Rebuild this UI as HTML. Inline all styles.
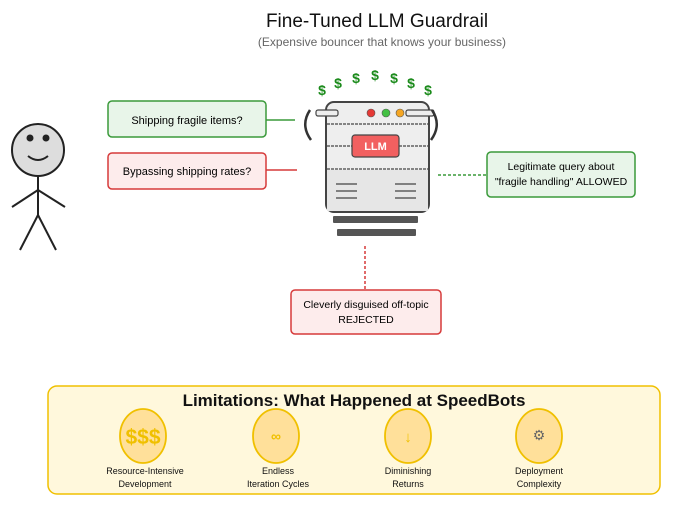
<!DOCTYPE html>
<html><head><style>body{margin:0;background:#fff}svg{display:block}</style></head><body>
<svg width="700" height="525" xmlns="http://www.w3.org/2000/svg" font-family="Liberation Sans, sans-serif">
<text x="377" y="27" font-size="19" text-anchor="middle" fill="#111">Fine-Tuned LLM Guardrail</text>
<text x="382" y="46" font-size="12" text-anchor="middle" fill="#666">(Expensive bouncer that knows your business)</text>
<!-- stick figure -->
<g stroke="#222" stroke-width="2" fill="none">
<circle cx="38" cy="150" r="26" fill="#ddd"/>
<line x1="38" y1="176" x2="38" y2="215"/>
<line x1="38" y1="190" x2="12" y2="207"/>
<line x1="38" y1="190" x2="65" y2="207"/>
<line x1="38" y1="215" x2="20" y2="250"/>
<line x1="38" y1="215" x2="56" y2="250"/>
<path d="M28 156 Q38 164 48 156"/>
</g>
<circle cx="30" cy="138" r="3.5" fill="#222"/><circle cx="46" cy="138" r="3.5" fill="#222"/>
<!-- left boxes -->
<rect x="108" y="101" width="158" height="36" rx="4" fill="#e8f5e9" stroke="#3a9a3a" stroke-width="1.5"/>
<text x="187" y="124" font-size="11" text-anchor="middle">Shipping fragile items?</text>
<line x1="266" y1="120" x2="295" y2="120" stroke="#3a9a3a" stroke-width="1.5"/>
<rect x="108" y="153" width="158" height="36" rx="4" fill="#fdecec" stroke="#d63a3a" stroke-width="1.5"/>
<text x="187" y="175" font-size="11" text-anchor="middle">Bypassing shipping rates?</text>
<line x1="266" y1="170" x2="297" y2="170" stroke="#d63a3a" stroke-width="1.5"/>
<!-- dollars -->
<g fill="#1a8a1a" font-size="14" font-weight="bold" text-anchor="middle">
<text x="322" y="95">$</text><text x="338" y="88">$</text><text x="356" y="83">$</text><text x="375" y="80">$</text><text x="394" y="83">$</text><text x="411" y="88">$</text><text x="428" y="95">$</text>
</g>
<!-- server -->
<rect x="326" y="102" width="103" height="110" rx="8" fill="#eee" stroke="#444" stroke-width="2"/>
<g stroke="#444" stroke-dasharray="3,1" stroke-width="1.2">
<line x1="327" y1="124" x2="428" y2="124"/><line x1="327" y1="146" x2="428" y2="146"/><line x1="327" y1="169" x2="428" y2="169"/>
</g>
<rect x="327" y="170" width="101" height="41" fill="#e6e6e6"/>
<circle cx="371" cy="113" r="4" fill="#e53935" stroke="#555" stroke-width=".6"/>
<circle cx="386" cy="113" r="4" fill="#43c043" stroke="#555" stroke-width=".6"/>
<circle cx="400" cy="113" r="4" fill="#f5a623" stroke="#555" stroke-width=".6"/>
<rect x="352" y="135" width="47" height="22" rx="3" fill="#f26060" stroke="#444" stroke-width="1.2"/>
<text x="375.5" y="150" font-size="11" font-weight="bold" fill="#fff" text-anchor="middle">LLM</text>
<g stroke="#444" stroke-width="1.3">
<line x1="336" y1="184" x2="357" y2="184"/><line x1="336" y1="191" x2="357" y2="191"/><line x1="336" y1="198" x2="357" y2="198"/>
<line x1="395" y1="184" x2="416" y2="184"/><line x1="395" y1="191" x2="416" y2="191"/><line x1="395" y1="198" x2="416" y2="198"/>
</g>
<rect x="316" y="110" width="22" height="6" rx="2" fill="#eee" stroke="#444" stroke-width="1.2"/>
<rect x="406" y="110" width="28" height="6" rx="2" fill="#eee" stroke="#444" stroke-width="1.2"/>
<path d="M310 110 Q300 125 311 140" stroke="#333" stroke-width="2.5" fill="none"/>
<path d="M432 110 Q442 125 431 140" stroke="#333" stroke-width="2.5" fill="none"/>
<rect x="333" y="216" width="85" height="7" rx="1" fill="#555"/>
<rect x="337" y="229" width="79" height="7" rx="1" fill="#555"/>
<!-- right -->
<line x1="438" y1="175" x2="486" y2="175" stroke="#3a9a3a" stroke-width="1.5" stroke-dasharray="3,2"/>
<rect x="487" y="152" width="148" height="45" rx="4" fill="#e8f5e9" stroke="#3a9a3a" stroke-width="1.5"/>
<text x="561" y="170" font-size="10.5" text-anchor="middle">Legitimate query about</text>
<text x="561" y="185" font-size="10.5" text-anchor="middle">"fragile handling" ALLOWED</text>
<!-- bottom -->
<line x1="365" y1="246" x2="365" y2="290" stroke="#d63a3a" stroke-width="1.5" stroke-dasharray="3,2"/>
<rect x="291" y="290" width="150" height="44" rx="4" fill="#fdecec" stroke="#d63a3a" stroke-width="1.5"/>
<text x="366" y="308" font-size="10.5" text-anchor="middle">Cleverly disguised off-topic</text>
<text x="366" y="323" font-size="10.5" text-anchor="middle">REJECTED</text>
<!-- panel -->
<rect x="48" y="386" width="612" height="108" rx="9" fill="#fff8dc" stroke="#f0c000" stroke-width="1.5"/>
<text x="354" y="406" font-size="17" font-weight="bold" text-anchor="middle" fill="#111">Limitations: What Happened at SpeedBots</text>
<g fill="#ffe09a" stroke="#f0c000" stroke-width="1.8">
<ellipse cx="143" cy="436" rx="23" ry="27"/><ellipse cx="276" cy="436" rx="23" ry="27"/><ellipse cx="408" cy="436" rx="23" ry="27"/><ellipse cx="539" cy="436" rx="23" ry="27"/>
</g>
<text x="143" y="444" font-size="21" font-weight="bold" fill="#f0c000" text-anchor="middle">$$$</text>
<text x="276" y="441" font-size="14" font-weight="bold" fill="#f0c000" text-anchor="middle">∞</text>
<text x="408" y="442" font-size="15" fill="#f0c000" text-anchor="middle">↓</text>
<text x="539" y="440" font-size="14" fill="#666" text-anchor="middle">⚙</text>
<g font-size="9" text-anchor="middle" fill="#111">
<text x="145" y="474">Resource-Intensive</text><text x="145" y="487">Development</text>
<text x="278" y="474">Endless</text><text x="278" y="487">Iteration Cycles</text>
<text x="408" y="474">Diminishing</text><text x="408" y="487">Returns</text>
<text x="539" y="474">Deployment</text><text x="539" y="487">Complexity</text>
</g>
</svg>
</body></html>
